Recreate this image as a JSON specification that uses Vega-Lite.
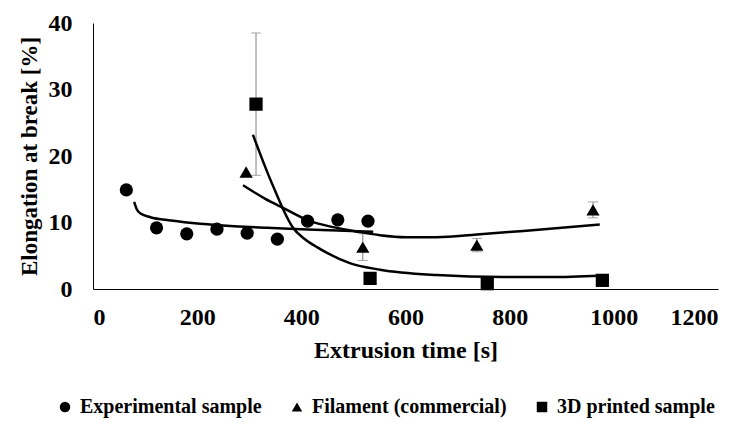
{
  "$schema": "https://vega.github.io/schema/vega-lite/v6.json",
  "autosize": "none",
  "width": 625,
  "height": 266,
  "padding": {"left": 93, "top": 23, "right": 25, "bottom": 134},
  "background": "white",
  "config": {
    "view": {"stroke": null},
    "font": "Liberation Serif"
  },
  "datasets": {
    "points": [
      {"series": "Experimental sample", "x": 64, "y": 14.9},
      {"series": "Experimental sample", "x": 122, "y": 9.2},
      {"series": "Experimental sample", "x": 180, "y": 8.3},
      {"series": "Experimental sample", "x": 238, "y": 9.0},
      {"series": "Experimental sample", "x": 296, "y": 8.4},
      {"series": "Experimental sample", "x": 354, "y": 7.5},
      {"series": "Experimental sample", "x": 412, "y": 10.2},
      {"series": "Experimental sample", "x": 470, "y": 10.4},
      {"series": "Experimental sample", "x": 528, "y": 10.2},
      {"series": "Filament (commercial)", "x": 294, "y": 17.6},
      {"series": "Filament (commercial)", "x": 518, "y": 6.3},
      {"series": "Filament (commercial)", "x": 737, "y": 6.6},
      {"series": "Filament (commercial)", "x": 960, "y": 11.9},
      {"series": "3D printed sample", "x": 313, "y": 27.8},
      {"series": "3D printed sample", "x": 532, "y": 1.6},
      {"series": "3D printed sample", "x": 757, "y": 0.8},
      {"series": "3D printed sample", "x": 978, "y": 1.3}
    ],
    "errs": [
      {"series": "Filament (commercial)", "x": 518, "lo": 4.3, "hi": 8.3},
      {"series": "Filament (commercial)", "x": 737, "lo": 5.6, "hi": 7.6},
      {"series": "Filament (commercial)", "x": 960, "lo": 10.7, "hi": 13.1},
      {"series": "3D printed sample", "x": 313, "lo": 17.1, "hi": 38.5}
    ],
    "trends": [
      {"series": "Experimental sample", "x": 79, "y": 13.1},
      {"series": "Experimental sample", "x": 84, "y": 12.0},
      {"series": "Experimental sample", "x": 92, "y": 11.3},
      {"series": "Experimental sample", "x": 110, "y": 10.8},
      {"series": "Experimental sample", "x": 150, "y": 10.3},
      {"series": "Experimental sample", "x": 206, "y": 9.8},
      {"series": "Experimental sample", "x": 280, "y": 9.4},
      {"series": "Experimental sample", "x": 334, "y": 9.2},
      {"series": "Experimental sample", "x": 400, "y": 9.0},
      {"series": "Experimental sample", "x": 470, "y": 8.8},
      {"series": "Experimental sample", "x": 538, "y": 8.6},
      {"series": "Filament (commercial)", "x": 288, "y": 15.6},
      {"series": "Filament (commercial)", "x": 330, "y": 13.6},
      {"series": "Filament (commercial)", "x": 365, "y": 12.2},
      {"series": "Filament (commercial)", "x": 417, "y": 10.2},
      {"series": "Filament (commercial)", "x": 461, "y": 9.3},
      {"series": "Filament (commercial)", "x": 510, "y": 8.6},
      {"series": "Filament (commercial)", "x": 551, "y": 8.1},
      {"series": "Filament (commercial)", "x": 600, "y": 7.8},
      {"series": "Filament (commercial)", "x": 660, "y": 7.8},
      {"series": "Filament (commercial)", "x": 737, "y": 8.2},
      {"series": "Filament (commercial)", "x": 820, "y": 8.7},
      {"series": "Filament (commercial)", "x": 900, "y": 9.2},
      {"series": "Filament (commercial)", "x": 973, "y": 9.7},
      {"series": "3D printed sample", "x": 307, "y": 23.2},
      {"series": "3D printed sample", "x": 320, "y": 20.5},
      {"series": "3D printed sample", "x": 335, "y": 17.5},
      {"series": "3D printed sample", "x": 350, "y": 14.7},
      {"series": "3D printed sample", "x": 365, "y": 12.0},
      {"series": "3D printed sample", "x": 384, "y": 9.2},
      {"series": "3D printed sample", "x": 405, "y": 7.6},
      {"series": "3D printed sample", "x": 430, "y": 6.3},
      {"series": "3D printed sample", "x": 493, "y": 3.9},
      {"series": "3D printed sample", "x": 551, "y": 2.9},
      {"series": "3D printed sample", "x": 660, "y": 2.1},
      {"series": "3D printed sample", "x": 787, "y": 1.8},
      {"series": "3D printed sample", "x": 880, "y": 1.8},
      {"series": "3D printed sample", "x": 973, "y": 2.0}
    ]
  },
  "encoding": {
    "x": {
      "type": "quantitative",
      "scale": {"domain": [0, 1200], "nice": false, "zero": false},
      "axis": {
        "title": "Extrusion time [s]",
        "values": [0, 200, 400, 600, 800, 1000, 1200],
        "format": "d",
        "grid": false, "ticks": false,
        "domainColor": "#000000", "domainWidth": 1,
        "labelFont": "Liberation Serif", "labelFontWeight": "bold", "labelFontSize": 24, "labelColor": "#000000",
        "labelPadding": 16,
        "titleFont": "Liberation Serif", "titleFontWeight": "bold", "titleFontSize": 24, "titleColor": "#000000",
        "titlePadding": 9
      }
    },
    "y": {
      "type": "quantitative",
      "scale": {"domain": [0, 40], "nice": false},
      "axis": {
        "title": "Elongation at break [%]",
        "values": [0, 10, 20, 30, 40],
        "format": "d",
        "grid": false, "ticks": false,
        "domainColor": "#000000", "domainWidth": 1,
        "labelFont": "Liberation Serif", "labelFontWeight": "bold", "labelFontSize": 24, "labelColor": "#000000",
        "labelPadding": 21,
        "titleFont": "Liberation Serif", "titleFontWeight": "bold", "titleFontSize": 23, "titleColor": "#000000",
        "titlePadding": 7
      }
    }
  },
  "layer": [
    {
      "data": {"name": "errs"},
      "mark": {"type": "rule", "color": "#808080", "strokeWidth": 1},
      "encoding": {
        "x": {"field": "x"},
        "y": {"field": "lo"},
        "y2": {"field": "hi"}
      }
    },
    {
      "data": {"name": "errs"},
      "mark": {"type": "tick", "orient": "horizontal", "color": "#808080", "size": 10, "thickness": 1},
      "encoding": {
        "x": {"field": "x"},
        "y": {"field": "lo"}
      }
    },
    {
      "data": {"name": "errs"},
      "mark": {"type": "tick", "orient": "horizontal", "color": "#808080", "size": 10, "thickness": 1},
      "encoding": {
        "x": {"field": "x"},
        "y": {"field": "hi"}
      }
    },
    {
      "data": {"name": "trends"},
      "mark": {"type": "line", "color": "#000000", "strokeWidth": 2.5, "interpolate": "monotone"},
      "encoding": {
        "x": {"field": "x"},
        "y": {"field": "y"},
        "detail": {"field": "series"}
      }
    },
    {
      "data": {"name": "points"},
      "mark": {"type": "point", "filled": true, "opacity": 1, "color": "#000000", "size": 175},
      "encoding": {
        "x": {"field": "x"},
        "y": {"field": "y"},
        "shape": {
          "field": "series",
          "type": "nominal",
          "scale": {
            "domain": ["Experimental sample", "Filament (commercial)", "3D printed sample"],
            "range": ["circle", "triangle-up", "square"]
          },
          "legend": {
            "title": null,
            "orient": "none",
            "direction": "horizontal",
            "legendX": -38,
            "legendY": 374,
            "symbolSize": 110,
            "symbolFillColor": "#000000",
            "symbolStrokeColor": "#000000",
            "symbolOpacity": 1,
            "labelFont": "Liberation Serif",
            "labelFontWeight": "bold",
            "labelFontSize": 20,
            "labelColor": "#000000",
            "labelOffset": 5,
            "columnPadding": 25,
            "labelLimit": 400
          }
        }
      }
    }
  ]
}
